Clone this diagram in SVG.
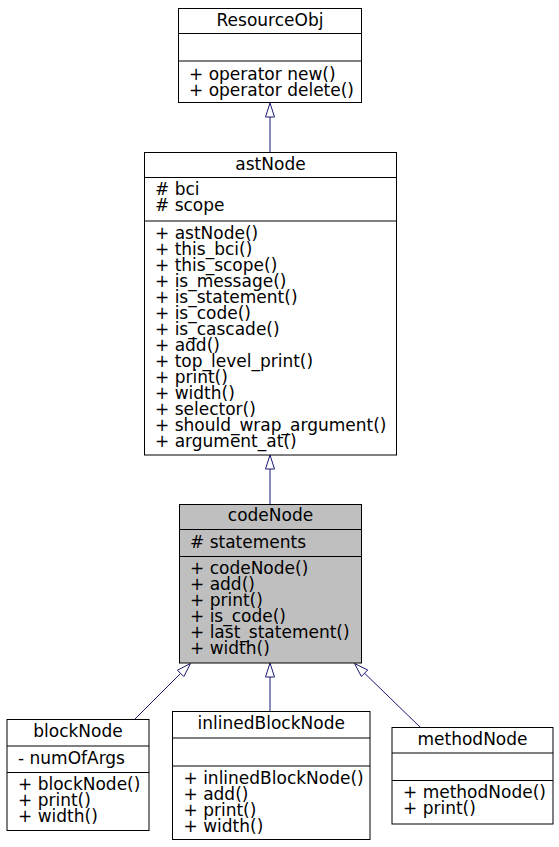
<svg xmlns="http://www.w3.org/2000/svg" width="559" height="847" viewBox="0 0 559 847">
<style>
.box{fill:#ffffff;stroke:#000000;stroke-width:1}
.hl{fill:#bfbfbf;stroke:#000000;stroke-width:1}
.sep{stroke:#000000;stroke-width:1}
text{font-family:"DejaVu Sans","Liberation Sans",sans-serif;font-size:17px;fill:#000000}
.t{text-anchor:middle}
.e{stroke:#191970;stroke-width:1;fill:none}
.ah{stroke:#191970;stroke-width:1;fill:#ffffff}
</style>
<rect width="559" height="847" fill="#ffffff"/>
<g id="connectors">
<line class="e" x1="270" y1="152.5" x2="270" y2="117"/>
<polygon class="ah" points="270,103 265.5,117 274.5,117"/>
<line class="e" x1="270" y1="504.5" x2="270" y2="469"/>
<polygon class="ah" points="270,455 265.5,469 274.5,469"/>
<line class="e" x1="134.5" y1="719.5" x2="180.6" y2="673.4"/>
<polygon class="ah" points="190.5,663.5 177.4,670.2 183.8,676.6"/>
<line class="e" x1="270" y1="711.5" x2="270" y2="677"/>
<polygon class="ah" points="270,663 265.5,677 274.5,677"/>
<line class="e" x1="420.5" y1="727.5" x2="364.5" y2="673.2"/>
<polygon class="ah" points="354.5,663.5 367.7,670 361.4,676.5"/>
</g>
<g id="ResourceObj">
<rect class="box" x="178.5" y="8.5" width="183" height="94"/>
<line class="sep" x1="178.5" y1="33.5" x2="361.5" y2="33.5"/>
<line class="sep" x1="178.5" y1="61" x2="361.5" y2="61"/>
<text class="t" x="270" y="26">ResourceObj</text>
<text x="189" y="79.5"><tspan x="189">+ operator new()</tspan><tspan x="189" dy="16">+ operator delete()</tspan></text>
</g>
<g id="astNode">
<rect class="box" x="144.5" y="152.5" width="252" height="302.5"/>
<line class="sep" x1="144.5" y1="177.5" x2="396.5" y2="177.5"/>
<line class="sep" x1="144.5" y1="221" x2="396.5" y2="221"/>
<text class="t" x="270.5" y="169.5">astNode</text>
<text x="155" y="195"><tspan x="155"># bci</tspan><tspan x="155" dy="16"># scope</tspan></text>
<text x="155" y="238.5"><tspan x="155">+ astNode()</tspan><tspan x="155" dy="16">+ this_bci()</tspan><tspan x="155" dy="16">+ this_scope()</tspan><tspan x="155" dy="16">+ is_message()</tspan><tspan x="155" dy="16">+ is_statement()</tspan><tspan x="155" dy="16">+ is_code()</tspan><tspan x="155" dy="16">+ is_cascade()</tspan><tspan x="155" dy="16">+ add()</tspan><tspan x="155" dy="16">+ top_level_print()</tspan><tspan x="155" dy="16">+ print()</tspan><tspan x="155" dy="16">+ width()</tspan><tspan x="155" dy="16">+ selector()</tspan><tspan x="155" dy="16">+ should_wrap_argument()</tspan><tspan x="155" dy="16">+ argument_at()</tspan></text>
</g>
<g id="codeNode">
<rect class="hl" x="179.5" y="504.5" width="182" height="158.5"/>
<line class="sep" x1="179.5" y1="529.5" x2="361.5" y2="529.5"/>
<line class="sep" x1="179.5" y1="556.5" x2="361.5" y2="556.5"/>
<text class="t" x="270.5" y="521">codeNode</text>
<text x="190" y="548"># statements</text>
<text x="190" y="574"><tspan x="190">+ codeNode()</tspan><tspan x="190" dy="16">+ add()</tspan><tspan x="190" dy="16">+ print()</tspan><tspan x="190" dy="16">+ is_code()</tspan><tspan x="190" dy="16">+ last_statement()</tspan><tspan x="190" dy="16">+ width()</tspan></text>
</g>
<g id="blockNode">
<rect class="box" x="7" y="719.5" width="142" height="111"/>
<line class="sep" x1="7" y1="746" x2="149" y2="746"/>
<line class="sep" x1="7" y1="772.5" x2="149" y2="772.5"/>
<text class="t" x="78" y="737">blockNode</text>
<text x="18" y="764">- numOfArgs</text>
<text x="18" y="790"><tspan x="18">+ blockNode()</tspan><tspan x="18" dy="16">+ print()</tspan><tspan x="18" dy="16">+ width()</tspan></text>
</g>
<g id="inlinedBlockNode">
<rect class="box" x="172.5" y="711.5" width="197.5" height="128"/>
<line class="sep" x1="172.5" y1="738" x2="370" y2="738"/>
<line class="sep" x1="172.5" y1="766" x2="370" y2="766"/>
<text class="t" x="271.25" y="728.5">inlinedBlockNode</text>
<text x="183.5" y="783.5"><tspan x="183.5">+ inlinedBlockNode()</tspan><tspan x="183.5" dy="16">+ add()</tspan><tspan x="183.5" dy="16">+ print()</tspan><tspan x="183.5" dy="16">+ width()</tspan></text>
</g>
<g id="methodNode">
<rect class="box" x="392" y="727.5" width="161" height="96.5"/>
<line class="sep" x1="392" y1="753" x2="553" y2="753"/>
<line class="sep" x1="392" y1="780.5" x2="553" y2="780.5"/>
<text class="t" x="472.5" y="745">methodNode</text>
<text x="403" y="798"><tspan x="403">+ methodNode()</tspan><tspan x="403" dy="16">+ print()</tspan></text>
</g>
</svg>
